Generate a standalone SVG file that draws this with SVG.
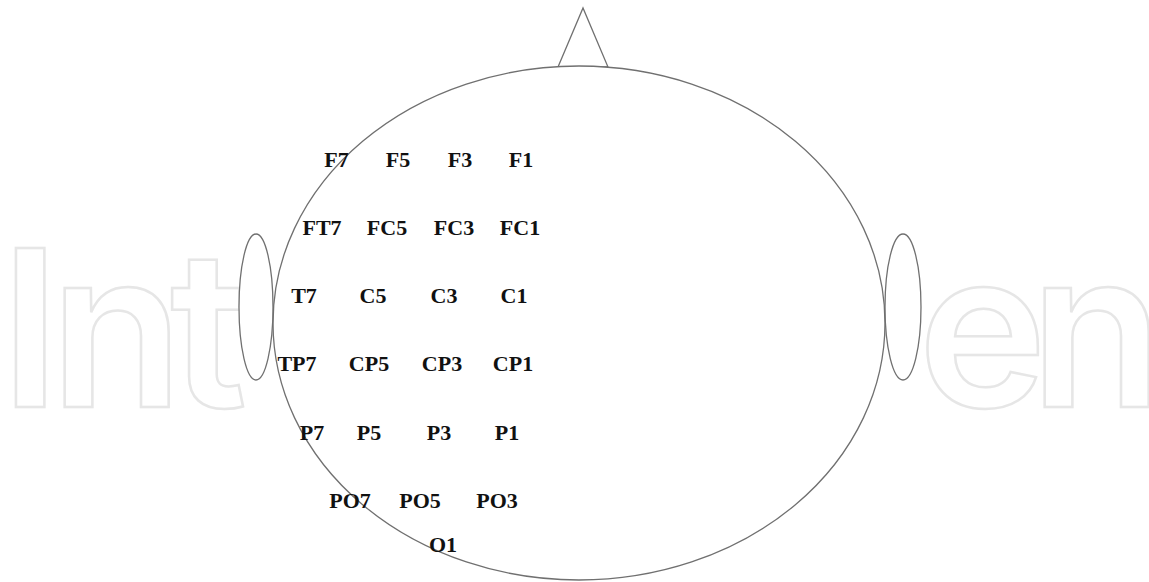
<svg xmlns="http://www.w3.org/2000/svg" width="1149" height="582" viewBox="0 0 1149 582">
<style>
.wm{font-family:Inter,"DejaVu Sans",sans-serif;font-weight:600;font-size:218px;fill:#fff;stroke:#e6e6e6;stroke-width:2.5}
.outline{fill:#fff;stroke:#707070;stroke-width:1.3}
.lbl{font-family:"Liberation Serif","Times New Roman",serif;font-weight:bold;font-size:22px;fill:#111;text-anchor:middle}
</style>
<rect width="1149" height="582" fill="#fff"/>
<g id="watermark">
<text class="wm" x="0 50 170" y="407">Int</text>
<text class="wm" x="918 1030" y="407">en</text>
</g>
<g id="head">
<polygon class="outline" points="558,67 583,8 608,67"/>
<ellipse class="outline" cx="579" cy="323" rx="306" ry="257"/>
</g>
<g id="ear-left"><ellipse class="outline" cx="256" cy="307" rx="17" ry="73"/></g>
<g id="ear-right"><ellipse class="outline" cx="903" cy="307" rx="18" ry="73"/></g>
<g id="connectors"></g>
<g id="electrodes">
<g id="F7"><text class="lbl" x="336.5" y="167">F7</text></g>
<g id="F5"><text class="lbl" x="398" y="167">F5</text></g>
<g id="F3"><text class="lbl" x="460" y="167">F3</text></g>
<g id="F1"><text class="lbl" x="521" y="167">F1</text></g>
<g id="FT7"><text class="lbl" x="322" y="235">FT7</text></g>
<g id="FC5"><text class="lbl" x="387" y="235">FC5</text></g>
<g id="FC3"><text class="lbl" x="454" y="235">FC3</text></g>
<g id="FC1"><text class="lbl" x="520" y="235">FC1</text></g>
<g id="T7"><text class="lbl" x="304" y="303">T7</text></g>
<g id="C5"><text class="lbl" x="373" y="303">C5</text></g>
<g id="C3"><text class="lbl" x="444" y="303">C3</text></g>
<g id="C1"><text class="lbl" x="514" y="303">C1</text></g>
<g id="TP7"><text class="lbl" x="297" y="371">TP7</text></g>
<g id="CP5"><text class="lbl" x="369" y="371">CP5</text></g>
<g id="CP3"><text class="lbl" x="442" y="371">CP3</text></g>
<g id="CP1"><text class="lbl" x="513" y="371">CP1</text></g>
<g id="P7"><text class="lbl" x="312" y="440">P7</text></g>
<g id="P5"><text class="lbl" x="369" y="440">P5</text></g>
<g id="P3"><text class="lbl" x="439" y="440">P3</text></g>
<g id="P1"><text class="lbl" x="507" y="440">P1</text></g>
<g id="PO7"><text class="lbl" x="350" y="508">PO7</text></g>
<g id="PO5"><text class="lbl" x="420" y="508">PO5</text></g>
<g id="PO3"><text class="lbl" x="497" y="508">PO3</text></g>
<g id="O1"><text class="lbl" x="443" y="552">O1</text></g>
</g>
</svg>
